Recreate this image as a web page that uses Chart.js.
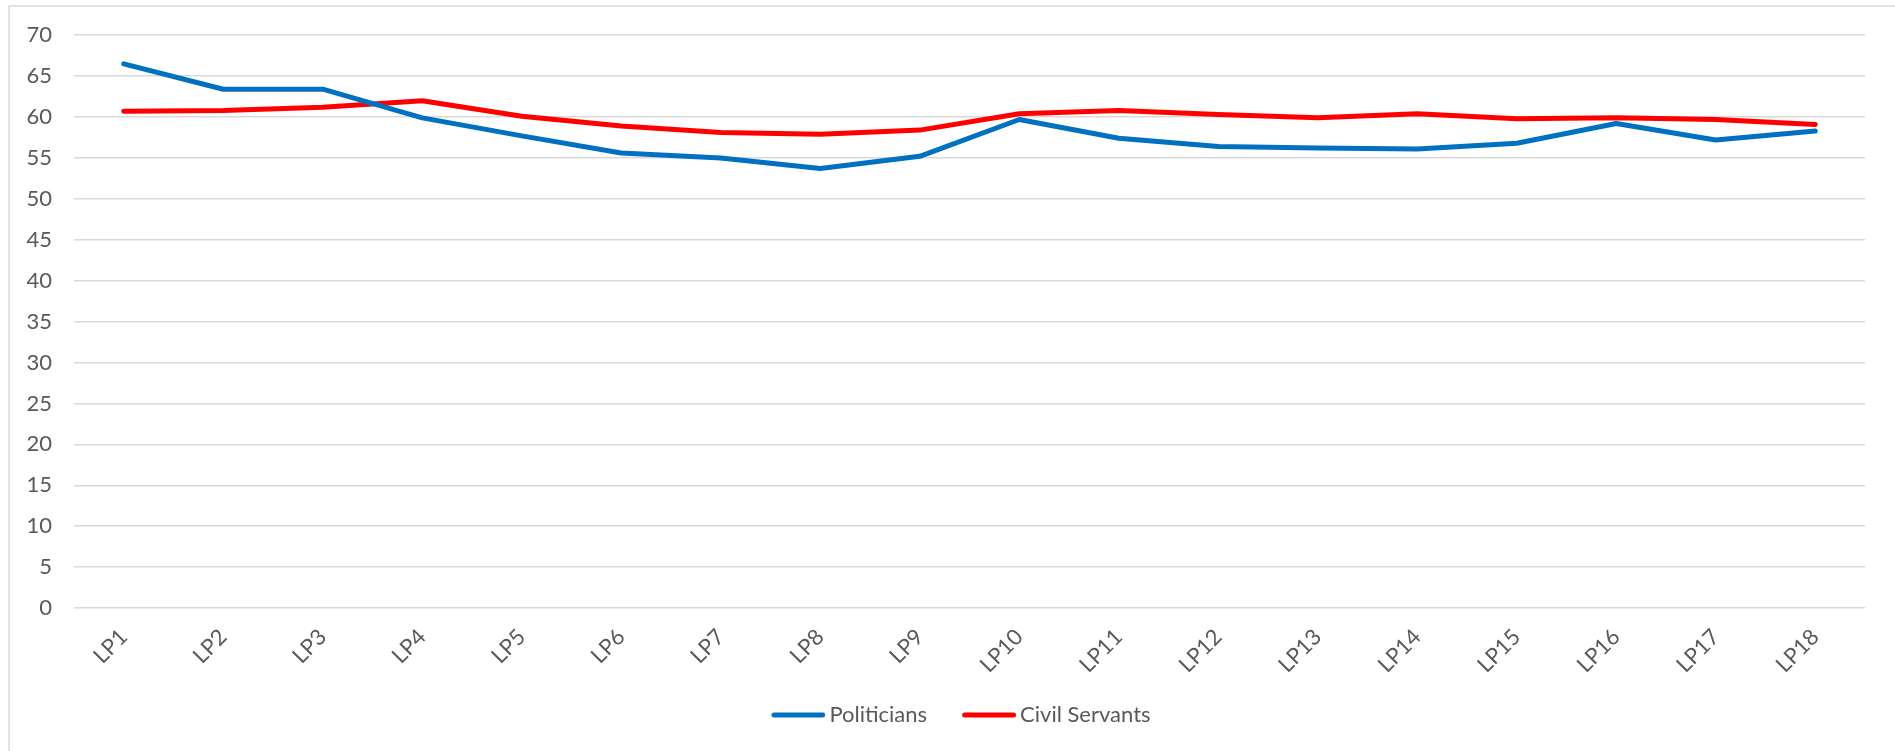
<!DOCTYPE html>
<html>
<head>
<meta charset="utf-8">
<script src="https://cdn.jsdelivr.net/npm/chart.js@4.4.1/dist/chart.umd.min.js"></script>
<style>
  html, body { margin: 0; padding: 0; background: #fff; }
  #wrap { position: relative; width: 1895px; height: 751px; }
</style>
</head>
<body>
<div id="wrap"><canvas id="js--chart--1"></canvas></div>
<script>
const labels = ['LP1', 'LP2', 'LP3', 'LP4', 'LP5', 'LP6', 'LP7', 'LP8', 'LP9',
    'LP10', 'LP11', 'LP12', 'LP13', 'LP14', 'LP15', 'LP16', 'LP17', 'LP18'];
const politicians = [66.5, 63.4, 63.4, 59.9, 57.7, 55.6, 55.0, 53.7, 55.2,
    59.7, 57.4, 56.4, 56.2, 56.1, 56.8, 59.2, 57.2, 58.3];
const civilServants = [60.7, 60.8, 61.2, 62.0, 60.1, 58.9, 58.1, 57.9, 58.4,
    60.4, 60.8, 60.3, 59.9, 60.4, 59.8, 59.9, 59.7, 59.1];
const yTicks = { min: 0, max: 70, step: 5 };

const fontFamily = 'Lato, "Open Sans", sans-serif';
const textColor = '#595959';
const gridColor = '#d9d9d9';
const blue = '#0070C0';
const red = '#FF0000';

// legend swatch: a short round-capped line, pushed right so it sits close to its label
const swatchLen = 54;
const swatchShift = 7;
function swatch(color) {
    const c = document.createElement('canvas');
    c.width = swatchLen + swatchShift * 2;
    c.height = 10;
    const g = c.getContext('2d');
    g.strokeStyle = color;
    g.lineWidth = 5;
    g.lineCap = 'round';
    g.beginPath();
    g.moveTo(swatchShift * 2 + 2.5, 5);
    g.lineTo(swatchShift * 2 + swatchLen - 2.5, 5);
    g.stroke();
    return c;
}

// thin frame at top and left, like the exported chart area
const framePlugin = {
    id: 'frame',
    beforeDraw(chart) {
        const c = chart.ctx;
        c.save();
        c.strokeStyle = gridColor;
        c.lineWidth = 1.5;
        c.beginPath();
        c.moveTo(9, chart.height);
        c.lineTo(9, 6);
        c.lineTo(chart.width, 6);
        c.stroke();
        c.restore();
    },
    // legend sits a bit right of the canvas centre in the original
    afterLayout(chart) {
        if (chart.legend) chart.legend.left += 50;
    }
};

const ctx = document.getElementById('js--chart--1');

const lineChart = new Chart(ctx, {
    type: 'line',
    data: {
        labels: labels,
        datasets: [{
            label: 'Politicians',
            data: politicians,
            borderColor: blue,
            backgroundColor: blue,
            borderWidth: 5,
            borderCapStyle: 'round',
            borderJoinStyle: 'round',
            pointRadius: 0,
            pointStyle: swatch(blue),
            tension: 0
        }, {
            label: 'Civil Servants',
            data: civilServants,
            borderColor: red,
            backgroundColor: red,
            borderWidth: 5,
            borderCapStyle: 'round',
            borderJoinStyle: 'round',
            pointRadius: 0,
            pointStyle: swatch(red),
            tension: 0
        }]
    },
    options: {
        responsive: true,
        maintainAspectRatio: false,
        animation: false,
        layout: {
            padding: { top: 35, right: 30, left: 0, bottom: 15 }
        },
        plugins: {
            legend: {
                position: 'bottom',
                labels: {
                    usePointStyle: true,
                    pointStyleWidth: swatchLen,
                    color: textColor,
                    font: { family: fontFamily, size: 22 },
                    padding: 28
                }
            },
            tooltip: { enabled: false }
        },
        scales: {
            x: {
                offset: true,
                grid: { display: false, drawTicks: false },
                border: { display: false },
                ticks: {
                    color: textColor,
                    font: { family: fontFamily, size: 22 },
                    maxRotation: 45,
                    minRotation: 45,
                    autoSkip: false,
                    padding: 16
                },
                afterFit(scale) { scale.height = 68; }
            },
            y: {
                min: yTicks.min,
                max: yTicks.max,
                grid: { color: gridColor, lineWidth: 1.5, drawTicks: false },
                border: { display: false },
                ticks: {
                    stepSize: yTicks.step,
                    color: textColor,
                    font: { family: fontFamily, size: 22 },
                    padding: 22
                },
                afterFit(scale) { scale.width = 74; }
            }
        }
    },
    plugins: [framePlugin]
});
</script>
</body>
</html>
